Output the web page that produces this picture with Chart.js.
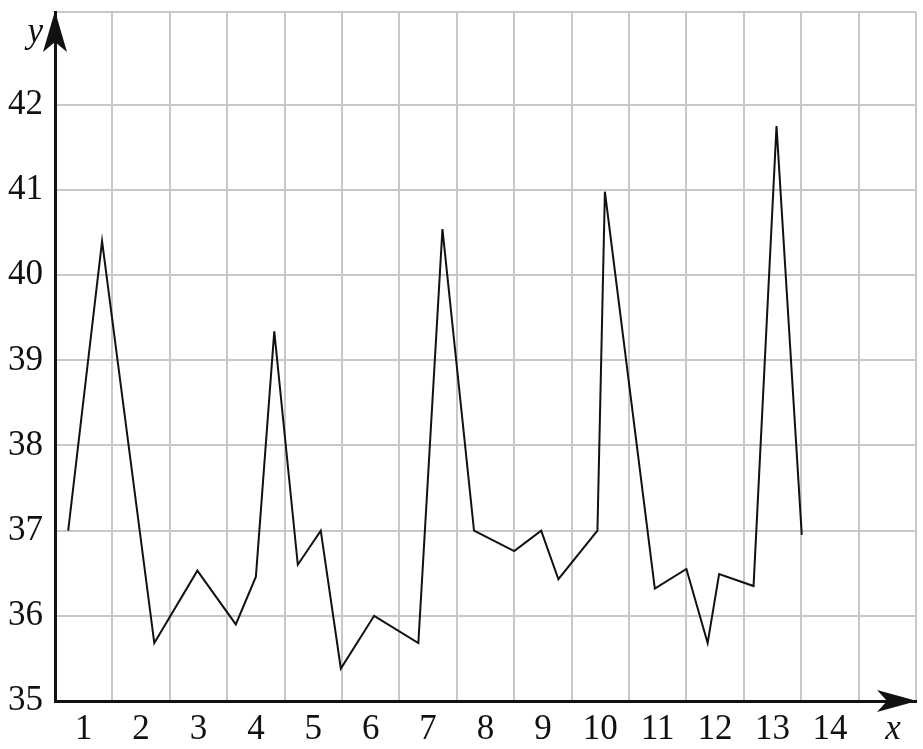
<!DOCTYPE html>
<html>
<head>
<meta charset="utf-8">
<script src="https://cdn.jsdelivr.net/npm/chart.js@4"></script>
<style>
  html, body { margin: 0; padding: 0; background: #fff; }
  #wrap { width: 923px; height: 749px; }
</style>
</head>
<body>
<div id="wrap"><canvas id="line-chart"></canvas></div>
<script>
// values
const xValues = [0.73, 1.32, 2.23, 2.98, 3.65, 4.00, 4.32, 4.73, 5.13, 5.48, 6.06, 6.83, 7.25,
                 7.80, 8.50, 8.97, 9.27, 9.95, 10.08, 10.95, 11.50, 11.87, 12.07, 12.67, 13.07, 13.51];
const yValues = [37.0, 40.40, 35.68, 36.53, 35.90, 36.46, 39.34, 36.60, 37.0, 35.38, 36.0, 35.68, 40.54,
                 37.0, 36.76, 37.0, 36.43, 37.0, 40.98, 36.32, 36.55, 35.68, 36.49, 36.35, 41.75, 36.95];

// x axis: grid lines between the numbers, labels in the cells
const xGridLines = [0.5, 1.5, 2.5, 3.5, 4.5, 5.5, 6.5, 7.5, 8.5, 9.5, 10.5, 11.5, 12.5, 13.5, 14.5, 15.5];
const xLabels = [1, 2, 3, 4, 5, 6, 7, 8, 9, 10, 11, 12, 13, 14];
const xAxisName = 'x';
const xNamePos = 15.1;

// y axis
const yLabels = [35, 36, 37, 38, 39, 40, 41, 42];
const yAxisName = 'y';
const yNamePos = 42.84;
const yTop = 43.09;

const FONT = '"Liberation Serif", "Times New Roman", serif';
const GRID = '#c8c8c8';

const arrows = {
    id: 'arrows',
    afterDraw(chart) {
        const ctx = chart.ctx;
        const a = chart.chartArea;
        ctx.save();
        ctx.fillStyle = '#111';
        // y arrow
        ctx.beginPath();
        ctx.moveTo(a.left, a.top - 1);
        ctx.lineTo(a.left - 12, a.top + 40);
        ctx.lineTo(a.left, a.top + 30);
        ctx.lineTo(a.left + 12, a.top + 40);
        ctx.closePath();
        ctx.fill();
        // x arrow
        ctx.beginPath();
        ctx.moveTo(a.right + 1, a.bottom);
        ctx.lineTo(a.right - 39, a.bottom - 11);
        ctx.lineTo(a.right - 29, a.bottom);
        ctx.lineTo(a.right - 39, a.bottom + 11);
        ctx.closePath();
        ctx.fill();
        ctx.restore();
    }
};

new Chart(
    document.getElementById('line-chart'),
    {
        type: 'line',
        data: {
            datasets: [{
                data: xValues.map((x, i) => ({x: x, y: yValues[i]})),
                borderColor: '#111',
                borderWidth: 2,
                pointRadius: 0,
                tension: 0,
                fill: false
            }]
        },
        options: {
            responsive: true,
            maintainAspectRatio: false,
            animation: false,
            layout: {padding: {top: 12, right: 7, bottom: 0, left: 0}},
            plugins: {
                legend: {display: false},
                tooltip: {enabled: false}
            },
            scales: {
                x: {
                    type: 'linear',
                    min: 0.5,
                    max: 15.5,
                    afterBuildTicks: scale => {
                        scale.ticks = xGridLines.concat(xLabels, [xNamePos])
                            .sort((a, b) => a - b)
                            .map(v => ({value: v}));
                    },
                    afterFit: scale => {
                        scale.height = 48;
                        scale.paddingLeft = 0;
                        scale.paddingRight = 0;
                    },
                    grid: {
                        color: ctx => xGridLines.includes(ctx.tick.value) ? GRID : 'rgba(0,0,0,0)',
                        lineWidth: 2,
                        drawTicks: false
                    },
                    border: {color: '#111', width: 3},
                    ticks: {
                        autoSkip: false,
                        maxRotation: 0,
                        minRotation: 0,
                        padding: 8,
                        color: '#111',
                        font: ctx => ({
                            family: FONT,
                            size: 35,
                            style: ctx.tick && ctx.tick.value === xNamePos ? 'italic' : 'normal'
                        }),
                        callback: v => v === xNamePos ? xAxisName : (xLabels.includes(v) ? String(v) : '')
                    }
                },
                y: {
                    type: 'linear',
                    min: 35,
                    max: yTop,
                    afterBuildTicks: scale => {
                        scale.ticks = yLabels.concat([yNamePos, yTop]).map(v => ({value: v}));
                    },
                    afterFit: scale => {
                        scale.width = 55;
                        scale.paddingTop = 0;
                        scale.paddingBottom = 0;
                    },
                    grid: {
                        color: ctx => ctx.tick.value === yNamePos ? 'rgba(0,0,0,0)' : GRID,
                        lineWidth: 2,
                        drawTicks: false
                    },
                    border: {color: '#111', width: 3},
                    ticks: {
                        autoSkip: false,
                        padding: 12,
                        color: '#111',
                        font: ctx => ({
                            family: FONT,
                            size: 35,
                            style: ctx.tick && ctx.tick.value === yNamePos ? 'italic' : 'normal'
                        }),
                        callback: v => v === yNamePos ? yAxisName : (v === yTop ? '' : String(v))
                    }
                }
            }
        },
        plugins: [arrows]
    }
);
</script>
</body>
</html>
